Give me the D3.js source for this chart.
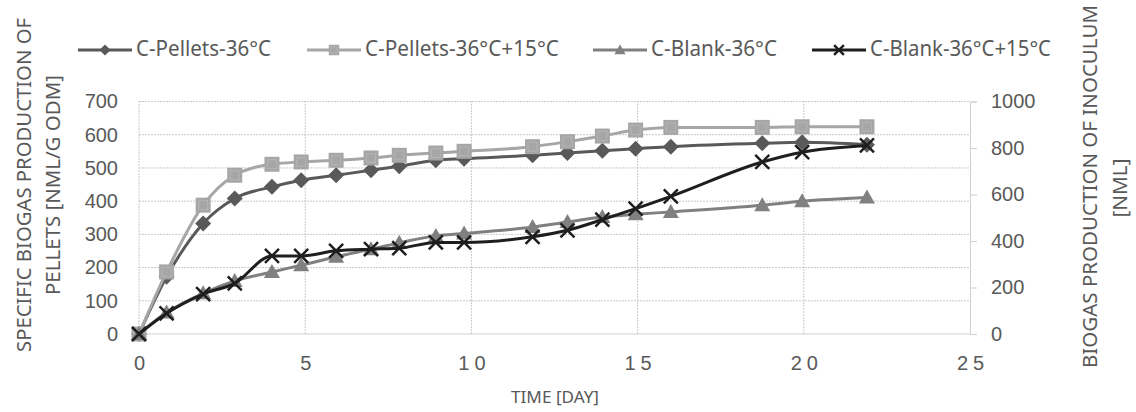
<!DOCTYPE html>
<html>
<head>
<meta charset="utf-8">
<script src="https://cdn.jsdelivr.net/npm/d3@7"></script>
<style>
  body { margin: 0; background: #fff; }
  svg { display: block; font-family: "Noto Sans", sans-serif; }
</style>
</head>
<body>
<svg id="chart" width="1136" height="412"></svg>
<script>
// time in days
const days = [0, 0.83, 1.93, 2.88, 4.0, 4.88, 5.93, 6.98, 7.83, 8.93, 9.78,
  11.84, 12.89, 13.94, 14.94, 16.0, 18.75, 19.95, 21.9];

// left axis series [NmL/g oDM]
const pellets36 = [0, 172, 333, 408, 443, 463, 478, 493, 505, 523, 528,
  538, 545, 552, 558, 564, 574, 577, 570];
const pellets36_15 = [0, 187, 388, 478, 511, 518, 523, 530, 538, 545, 550,
  564, 579, 596, 614, 622, 622, 624, 624];

// right axis series [NmL]
const blank36 = [0, 92, 175, 228, 267, 296, 332, 365, 392, 422, 432,
  460, 482, 503, 515, 525, 554, 571, 587];
const blank36_15 = [0, 89, 172, 218, 336, 336, 358, 365, 369, 394, 394,
  418, 446, 492, 539, 592, 740, 782, 811];

const legendLabels = ["C-Pellets-36°C", "C-Pellets-36°C+15°C", "C-Blank-36°C", "C-Blank-36°C+15°C"];
const xTicks = [0, 5, 10, 15, 20, 25];
const yLeftTicks = [0, 100, 200, 300, 400, 500, 600, 700];
const yRightTicks = [0, 200, 400, 600, 800, 1000];

const svg = d3.select("#chart");

const x = d3.scaleLinear().domain([0, 25]).range([139, 970]);
const yL = d3.scaleLinear().domain([0, 700]).range([334, 101.5]);
const yR = d3.scaleLinear().domain([0, 1000]).range([334, 101.5]);

const textCol = "#595959";
const gridCol = "#c9c9c9";

// grid
svg.append("g")
  .selectAll("line")
  .data(yLeftTicks.slice(1))
  .join("line")
  .attr("x1", x(0)).attr("x2", x(25))
  .attr("y1", d => yL(d)).attr("y2", d => yL(d))
  .attr("stroke", gridCol).attr("stroke-dasharray", "2,1");

svg.append("g")
  .selectAll("line")
  .data(xTicks.slice(1, -1))
  .join("line")
  .attr("x1", d => x(d)).attr("x2", d => x(d))
  .attr("y1", yL(0)).attr("y2", yL(700))
  .attr("stroke", gridCol).attr("stroke-dasharray", "2,1");

// frame lines
svg.append("line")
  .attr("x1", x(0)).attr("x2", x(25)).attr("y1", yL(0)).attr("y2", yL(0))
  .attr("stroke", "#cfcfcf");
svg.append("line")
  .attr("x1", x(0)).attr("x2", x(0)).attr("y1", yL(0)).attr("y2", yL(700))
  .attr("stroke", gridCol).attr("stroke-dasharray", "2,1");

// right axis
const rightAxis = svg.append("g")
  .attr("transform", `translate(${x(25)},0)`)
  .call(d3.axisRight(yR).tickValues(yRightTicks).tickFormat(d3.format("d")).tickSize(7).tickPadding(14));
rightAxis.select(".domain").attr("stroke", "#cfcfcf");
rightAxis.selectAll(".tick line").attr("stroke", "#cfcfcf");
rightAxis.selectAll("text").attr("fill", textCol).attr("font-size", 20);

// left axis
const leftAxis = svg.append("g")
  .attr("transform", `translate(${x(0)},0)`)
  .call(d3.axisLeft(yL).tickValues(yLeftTicks).tickSize(0).tickPadding(21));
leftAxis.select(".domain").remove();
leftAxis.selectAll("text").attr("fill", textCol).attr("font-size", 20);

// bottom axis
const bottomAxis = svg.append("g")
  .attr("transform", `translate(0,${yL(0)})`)
  .call(d3.axisBottom(x).tickValues(xTicks).tickSize(0).tickPadding(22));
bottomAxis.select(".domain").remove();
bottomAxis.selectAll("text")
  .attr("fill", textCol).attr("font-size", 20)
  .attr("letter-spacing", 5).attr("dx", 2.5);

// axis titles
function vTitle(cx, cy, len, txt) {
  svg.append("text")
    .attr("transform", `translate(${cx},${cy}) rotate(-90)`)
    .attr("text-anchor", "middle").attr("dominant-baseline", "middle")
    .attr("fill", textCol).attr("font-size", 19)
    .attr("textLength", len).attr("lengthAdjust", "spacingAndGlyphs")
    .text(txt);
}
vTitle(26, 185, 334, "SPECIFIC BIOGAS PRODUCTION OF");
vTitle(55, 185, 220, "PELLETS [NML/G ODM]");
vTitle(1092, 186.5, 363, "BIOGAS PRODUCTION OF INOCULUM");
vTitle(1122, 188, 59, "[NML]");

svg.append("text")
  .attr("x", 555).attr("y", 398)
  .attr("text-anchor", "middle").attr("dominant-baseline", "middle")
  .attr("fill", textCol).attr("font-size", 17)
  .attr("textLength", 88).attr("lengthAdjust", "spacingAndGlyphs")
  .text("TIME [DAY]");

// series
const series = [
  { name: legendLabels[0], vals: pellets36, y: yL, color: "#595959", shape: "diamond" },
  { name: legendLabels[1], vals: pellets36_15, y: yL, color: "#a6a6a6", shape: "square" },
  { name: legendLabels[2], vals: blank36, y: yR, color: "#808080", shape: "triangle" },
  { name: legendLabels[3], vals: blank36_15, y: yR, color: "#1e1e1e", shape: "cross" }
];

function drawMarker(g, shape, color, k) {
  if (shape === "diamond") {
    g.append("path").attr("d", `M0,${-8 * k}L${8 * k},0L0,${8 * k}L${-8 * k},0Z`).attr("fill", color);
  } else if (shape === "square") {
    const h = 7.5 * k;
    g.append("rect").attr("x", -h).attr("y", -h).attr("width", 2 * h).attr("height", 2 * h)
      .attr("fill", color);
    g.append("rect").attr("x", -h * 0.6).attr("y", -h * 0.6).attr("width", h * 1.2).attr("height", h * 1.2)
      .attr("fill", "none").attr("stroke", "#b5b5b5").attr("stroke-width", 1);
  } else if (shape === "triangle") {
    g.append("path").attr("d", `M0,${-8 * k}L${8 * k},${6 * k}L${-8 * k},${6 * k}Z`).attr("fill", color);
  } else {
    const h = 7 * k;
    g.append("path").attr("d", `M${-h},${-h}L${h},${h}M${-h},${h}L${h},${-h}`)
      .attr("stroke", color).attr("stroke-width", 2.5).attr("fill", "none");
  }
}

series.forEach(s => {
  const line = d3.line()
    .x((d, i) => x(days[i]))
    .y(d => s.y(d))
    .curve(d3.curveMonotoneX);
  svg.append("path")
    .datum(s.vals)
    .attr("d", line)
    .attr("fill", "none")
    .attr("stroke", s.color)
    .attr("stroke-width", 3);
  svg.append("g")
    .selectAll("g")
    .data(s.vals)
    .join("g")
    .attr("transform", (d, i) => `translate(${x(days[i])},${s.y(d)})`)
    .each(function () { drawMarker(d3.select(this), s.shape, s.color, 1); });
});

// legend
const legendX = [78, 307, 593, 812];
const legendW = [135, 194, 126, 181];
series.forEach((s, i) => {
  const g = svg.append("g").attr("transform", `translate(${legendX[i]},50)`);
  g.append("line").attr("x1", 0).attr("x2", 54).attr("stroke", s.color).attr("stroke-width", 3);
  const m = g.append("g").attr("transform", "translate(27,0)");
  drawMarker(m, s.shape, s.color, 0.7);
  g.append("text")
    .attr("x", 58).attr("y", 0)
    .attr("dominant-baseline", "middle")
    .attr("fill", textCol).attr("font-size", 21)
    .attr("textLength", legendW[i]).attr("lengthAdjust", "spacingAndGlyphs")
    .text(s.name);
});
</script>
</body>
</html>
